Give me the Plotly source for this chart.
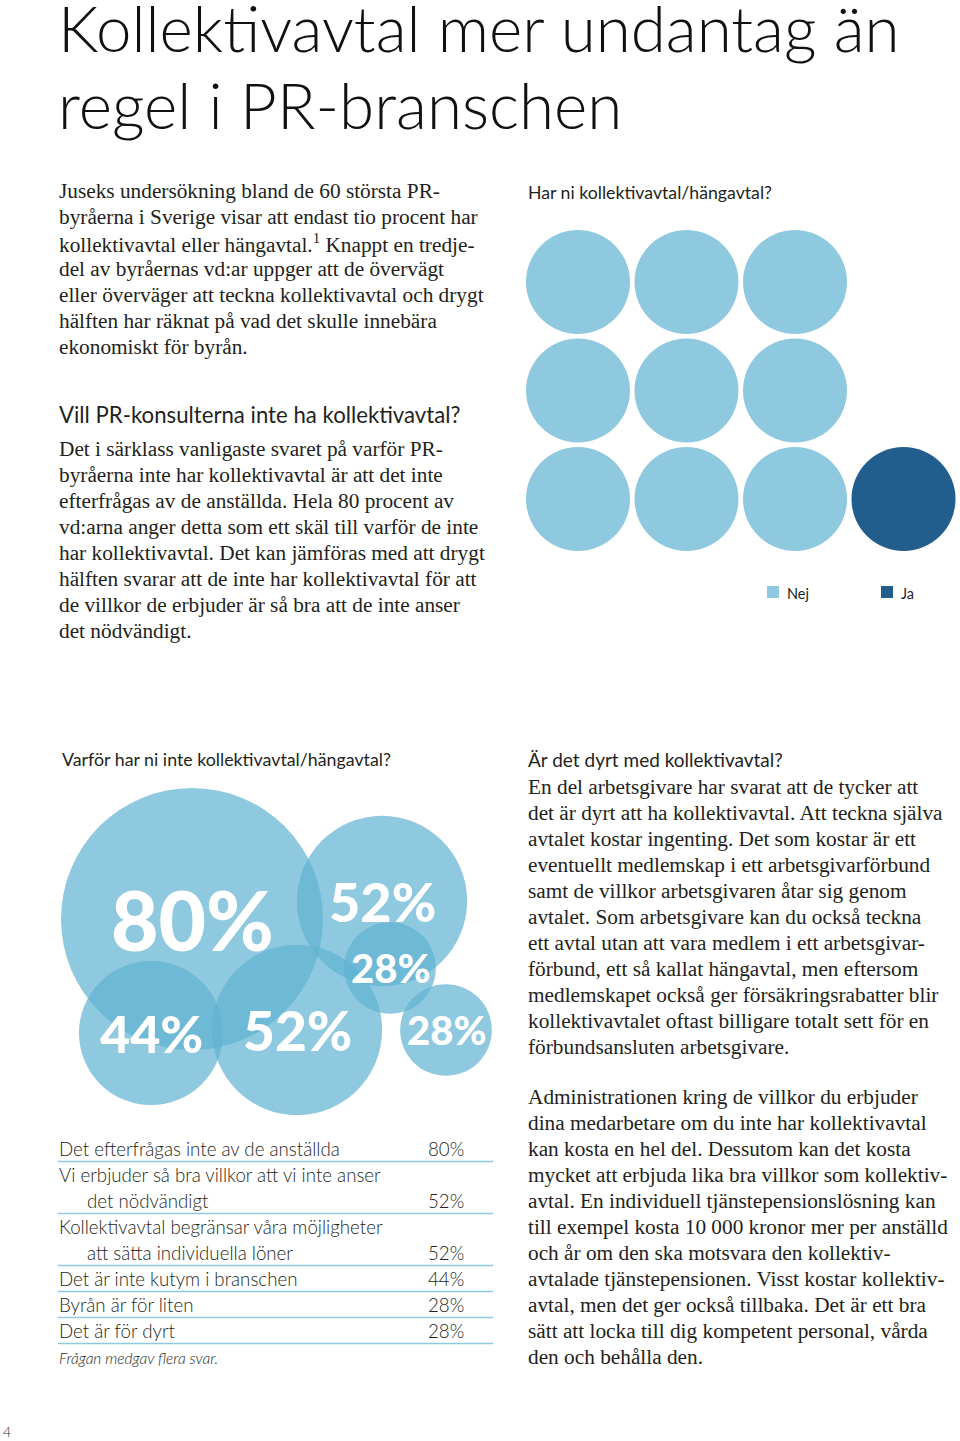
import plotly.graph_objects as go

# ---------------- DATA ----------------
title_lines = ["Kollektivavtal mer undantag än", "regel i PR-branschen"]

intro_lines = [
    "Juseks undersökning bland de 60 största PR-",
    "byråerna i Sverige visar att endast tio procent har",
    "kollektivavtal eller hängavtal.<sup>1</sup> Knappt en tredje-",
    "del av byråernas vd:ar uppger att de övervägt",
    "eller överväger att teckna kollektivavtal och drygt",
    "hälften har räknat på vad det skulle innebära",
    "ekonomiskt för byrån.",
]
heading2 = "Vill PR-konsulterna inte ha kollektivavtal?"
para2_lines = [
    "Det i särklass vanligaste svaret på varför PR-",
    "byråerna inte har kollektivavtal är att det inte",
    "efterfrågas av de anställda. Hela 80 procent av",
    "vd:arna anger detta som ett skäl till varför de inte",
    "har kollektivavtal. Det kan jämföras med att drygt",
    "hälften svarar att de inte har kollektivavtal för att",
    "de villkor de erbjuder är så bra att de inte anser",
    "det nödvändigt.",
]

dots_title = "Har ni kollektivavtal/hängavtal?"
dot_categories = ["Nej", "Ja"]
dot_counts = [9, 1]          # of 10 agencies: 90 % no, 10 % yes

bubble_title = "Varför har ni inte kollektivavtal/hängavtal?"
bubble_values = [80, 52, 28, 28, 44, 52]

table_labels = [
    ["Det efterfrågas inte av de anställda"],
    ["Vi erbjuder så bra villkor att vi inte anser", "det nödvändigt"],
    ["Kollektivavtal begränsar våra möjligheter", "att sätta individuella löner"],
    ["Det är inte kutym i branschen"],
    ["Byrån är för liten"],
    ["Det är för dyrt"],
]
table_values = [80, 52, 52, 44, 28, 28]
table_note = "Frågan medgav flera svar."

heading3 = "Är det dyrt med kollektivavtal?"
para3_lines = [
    "En del arbetsgivare har svarat att de tycker att",
    "det är dyrt att ha kollektivavtal. Att teckna själva",
    "avtalet kostar ingenting. Det som kostar är ett",
    "eventuellt medlemskap i ett arbetsgivarförbund",
    "samt de villkor arbetsgivaren åtar sig genom",
    "avtalet. Som arbetsgivare kan du också teckna",
    "ett avtal utan att vara medlem i ett arbetsgivar-",
    "förbund, ett så kallat hängavtal, men eftersom",
    "medlemskapet också ger försäkringsrabatter blir",
    "kollektivavtalet oftast billigare totalt sett för en",
    "förbundsansluten arbetsgivare.",
]
para4_lines = [
    "Administrationen kring de villkor du erbjuder",
    "dina medarbetare om du inte har kollektivavtal",
    "kan kosta en hel del. Dessutom kan det kosta",
    "mycket att erbjuda lika bra villkor som kollektiv-",
    "avtal. En individuell tjänstepensionslösning kan",
    "till exempel kosta 10 000 kronor mer per anställd",
    "och år om den ska motsvara den kollektiv-",
    "avtalade tjänstepensionen. Visst kostar kollektiv-",
    "avtal, men det ger också tillbaka. Det är ett bra",
    "sätt att locka till dig kompetent personal, vårda",
    "den och behålla den.",
]
page_number = "4"

# ---------------- LAYOUT / STYLE ----------------
W, H = 960, 1441
OFF = 0  # body margin removed via post_script
LIGHT = "rgb(143,201,223)"
DARK = "rgb(33,94,142)"
BUBBLE = "rgb(96,178,209)"
RULE = "rgb(143,201,223)"
TXT = "#231f20"
SERIF = "Liberation Serif"
SANS = "Lato"
BODY = 21.3
PITCH = 26
TX = -1  # text x nudge

# bubble pack layout (page pixel centres), radius proportional to value
bubble_centers = [(192, 919), (382, 901), (390, 968), (446, 1030), (151, 1033), (297, 1030)]
bubble_px_per_unit = 131 / 80
bubble_font = [82, 54, 40, 40, 52, 55]

# dot grid layout
dot_x0, dot_y0, dot_step, dot_cols, dot_diam = 578, 282, 108.5, 4, 104

fig = go.Figure()
ann = []

def text(x, y, s, size, family=SERIF, color=TXT, xanchor="left", weight=None, style=None, xshift=0):
    f = dict(size=size, family=family, color=color)
    if weight is not None:
        f["weight"] = weight
    if style is not None:
        f["style"] = style
    ann.append(dict(x=x + (TX if xanchor == "left" else 0), y=y, xref="x", yref="y", text=s,
                    showarrow=False, xanchor=xanchor, yanchor="middle", xshift=xshift,
                    align=xanchor, font=f))

def para(lines, x, y0, size=BODY):
    for i, ln in enumerate(lines):
        text(x, y0 + i * PITCH, ln, size)

# title
for i, t in enumerate(title_lines):
    text(57, 27 + i * 77, t, 63.7, family=SANS, color="#111", weight=300)

para(intro_lines, 58, 191)
text(58, 414, heading2, 22.2, family=SANS)
para(para2_lines, 58, 449)

# ---- dot grid (Har ni kollektivavtal?) ----
text(527, 192, dots_title, 17.7, family=SANS)
cols_dot = []
for cat, n in zip(dot_categories, dot_counts):
    cols_dot += [LIGHT if cat == "Nej" else DARK] * n
dx, dy = [], []
light_positions = [(c, r) for r in range(3) for c in range(3)]
idx_light = 0
for cat_color in cols_dot:
    if cat_color == LIGHT:
        c, r = light_positions[idx_light]
        idx_light += 1
    else:
        c, r = 3, 2
    dx.append(dot_x0 + c * dot_step)
    dy.append(dot_y0 + r * dot_step)
fig.add_trace(go.Scatter(x=dx, y=dy, mode="markers", hoverinfo="skip",
                         marker=dict(size=dot_diam, color=cols_dot, opacity=1, line=dict(width=0))))

# legend
legend_x = [767, 881]
for cat, lx, colr in zip(dot_categories, legend_x, [LIGHT, DARK]):
    fig.add_shape(type="rect", x0=lx, x1=lx + 12, y0=586, y1=598, xref="x", yref="y",
                  fillcolor=colr, line=dict(width=0))
    text(lx + 19, 593, cat, 14.5, family=SANS)

# ---- bubble chart ----
text(61, 759, bubble_title, 17.8, family=SANS)
bx = [c[0] for c in bubble_centers]
by = [c[1] for c in bubble_centers]
bsize = [2 * v * bubble_px_per_unit for v in bubble_values]
fig.add_trace(go.Scatter(x=bx, y=by, mode="markers", hoverinfo="skip",
                         marker=dict(size=bsize, sizemode="diameter", color=BUBBLE,
                                     opacity=0.7, line=dict(width=0))))
for (x, y), v, fs in zip(bubble_centers, bubble_values, bubble_font):
    text(x, y, f"{v}%", fs, family=SANS, color="white", xanchor="center", weight=900)

# ---- table ----
row_y = 1149
for labels, val in zip(table_labels, table_values):
    for j, lab in enumerate(labels):
        text(58 + (28 if j > 0 else 0), row_y + j * PITCH, lab, 18.7, family=SANS, weight=300)
    last = row_y + (len(labels) - 1) * PITCH
    text(466, last, f"{val}%", 18.7, family=SANS, xanchor="right", weight=300)
    fig.add_shape(type="line", x0=58, x1=493, y0=last + 12.5, y1=last + 12.5, xref="x", yref="y",
                  line=dict(color=RULE, width=1.5))
    row_y = last + PITCH
text(58, 1358, table_note, 15.5, family=SANS, style="italic", weight=300)

# ---- right column ----
text(527, 759, heading3, 19, family=SANS)
para(para3_lines, 527, 787)
para(para4_lines, 527, 1097)

text(2, 1431, page_number, 14, family=SANS, weight=300)

fig.update_layout(
    width=W, height=H, margin=dict(l=0, r=0, t=0, b=0),
    paper_bgcolor="white", plot_bgcolor="white", showlegend=False,
    xaxis=dict(range=[OFF, W + OFF], visible=False, fixedrange=True),
    yaxis=dict(range=[H + OFF, OFF], visible=False, fixedrange=True),
    annotations=ann,
)
fig.write_html("out.html", config={"displayModeBar": False},
               post_script="document.body.style.margin='0px';document.body.style.overflow='hidden';")
